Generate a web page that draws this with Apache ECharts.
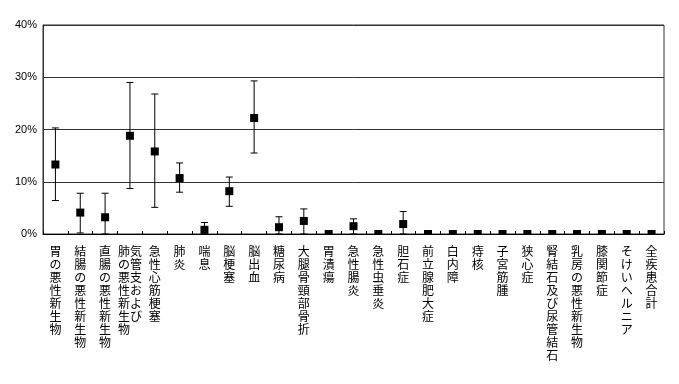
<!DOCTYPE html>
<html><head><meta charset="utf-8">
<script src="https://cdn.jsdelivr.net/npm/echarts@6/dist/echarts.min.js"></script>
<style>html,body{margin:0;padding:0;background:#fff}#c{width:679px;height:384px}</style>
</head><body><div id="c"></div>
<script>
const categories = ['胃の悪性新生物','結腸の悪性新生物','直腸の悪性新生物','気管支および肺の悪性新生物','急性心筋梗塞','肺炎','喘息','脳梗塞','脳出血','糖尿病','大腿骨頸部骨折','胃潰瘍','急性腸炎','急性虫垂炎','胆石症','前立腺肥大症','白内障','痔核','子宮筋腫','狭心症','腎結石及び尿管結石','乳房の悪性新生物','膝関節症','そけいヘルニア','全疾患合計'];
const values = [13.3, 4.1, 3.2, 18.8, 15.8, 10.7, 0.8, 8.2, 22.2, 1.3, 2.5, 0, 1.5, 0, 1.9, 0, 0, 0, 0, 0, 0, 0, 0, 0, 0];
const upperValues = [20.3, 7.8, 7.8, 29.0, 26.8, 13.6, 2.2, 10.9, 29.3, 3.3, 4.8, 0, 2.9, 0, 4.3, 0, 0, 0, 0, 0, 0, 0, 0, 0, 0];
const lowerValues = [6.4, 0.2, 0, 8.7, 5.1, 8.0, 0, 5.3, 15.5, 0, 0, 0, 0, 0, 0, 0, 0, 0, 0, 0, 0, 0, 0, 0, 0];
const yTickValues = [0, 10, 20, 30, 40];
const labelColumns = {'気管支および肺の悪性新生物': ['肺の悪性新生物', '気管支および']};

function verticalLabel(name) {
  const cols = labelColumns[name];
  if (!cols) return name.split('').join('\n');
  const left = cols[0].split(''), right = cols[1].split('');
  const n = Math.max(left.length, right.length);
  const lines = [];
  for (let i = 0; i < n; i++) lines.push((left[i] || '\u3000') + (right[i] || '\u3000'));
  return lines.join('\n');
}

const chart = echarts.init(document.getElementById('c'), null, {renderer: 'canvas'});
const data = categories.map((c, i) => [i, values[i], lowerValues[i], upperValues[i]]);
chart.setOption({
  animation: false,
  backgroundColor: '#fff',
  grid: {left: 43, right: 15, top: 25, bottom: 150, show: true, borderColor: '#333', borderWidth: 1},
  xAxis: {
    type: 'category', data: categories,
    axisLine: {lineStyle: {color: '#000', width: 1}},
    axisTick: {show: true, inside: true, length: 3, interval: 0, lineStyle: {color: '#000'}},
    axisLabel: {interval: 0, margin: 11, color: '#000', fontSize: 12, lineHeight: 13, fontFamily: 'Noto Sans CJK JP', formatter: verticalLabel, verticalAlign: 'top'},
    splitLine: {show: false}
  },
  yAxis: {
    type: 'value', min: yTickValues[0], max: yTickValues[yTickValues.length - 1], interval: 10,
    axisLine: {show: true, lineStyle: {color: '#333'}},
    axisTick: {show: false},
    axisLabel: {formatter: '{value}%', color: '#000', fontSize: 11, fontFamily: 'Liberation Sans', margin: 6},
    splitLine: {show: true, lineStyle: {color: '#333', width: 1}}
  },
  series: [{
    type: 'custom', clip: true, data: data,
    renderItem: function (params, api) {
      const i = api.value(0);
      const p = api.coord([i, api.value(1)]);
      const lo = api.coord([i, api.value(2)]);
      const hi = api.coord([i, api.value(3)]);
      const children = [];
      const cap = 3.5;
      if (api.value(3) > api.value(2)) {
        children.push({type: 'line', shape: {x1: p[0], y1: lo[1], x2: p[0], y2: hi[1]}, style: {stroke: '#000', lineWidth: 1}});
        children.push({type: 'line', shape: {x1: p[0] - cap, y1: hi[1], x2: p[0] + cap, y2: hi[1]}, style: {stroke: '#000', lineWidth: 1}});
        children.push({type: 'line', shape: {x1: p[0] - cap, y1: lo[1], x2: p[0] + cap, y2: lo[1]}, style: {stroke: '#000', lineWidth: 1}});
      }
      children.push({type: 'rect', shape: {x: p[0] - 4, y: p[1] - 4, width: 8, height: 8}, style: {fill: '#000'}});
      return {type: 'group', children: children};
    }
  }]
});
</script></body></html>
